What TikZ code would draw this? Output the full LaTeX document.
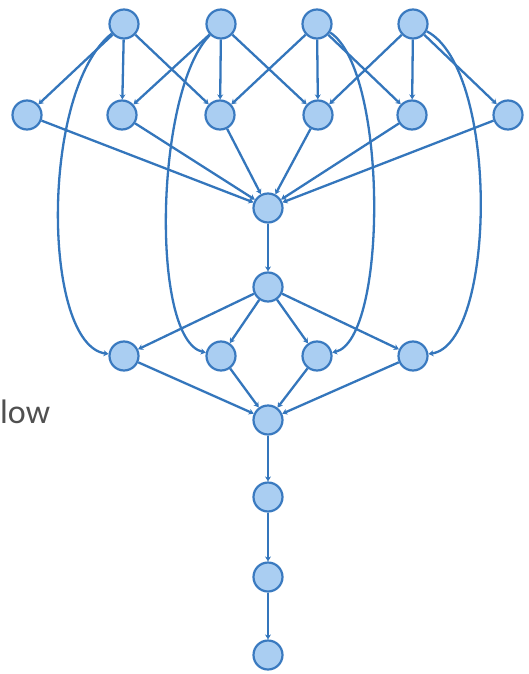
\documentclass[tikz,border=0pt]{standalone}
\usepackage{fontspec}
\setmainfont{Carlito}
\usetikzlibrary{arrows.meta}
\definecolor{edgeblue}{RGB}{52,118,188}
\definecolor{nodefill}{RGB}{170,206,242}
\definecolor{nodedraw}{RGB}{58,122,192}
\definecolor{txtgray}{RGB}{80,80,80}
\begin{document}
\begin{tikzpicture}[x=1pt,y=-1pt,
  vtx/.style={circle,draw=nodedraw,fill=nodefill,line width=2.2pt,minimum size=29pt,inner sep=0pt},
  edge/.style={draw=edgeblue,line width=2.3pt,-{Stealth[length=5pt,width=6pt]}},
  lbl/.style={anchor=base west,inner sep=0pt,text=txtgray,font=\fontsize{34}{40}\selectfont}]
\useasboundingbox (0,0) rectangle (529,674);
% nodes
\node[vtx] (T1) at (124,24) {};
\node[vtx] (T2) at (221,24) {};
\node[vtx] (T3) at (317,24) {};
\node[vtx] (T4) at (413,24) {};
\node[vtx] (S1) at (27,115) {};
\node[vtx] (S2) at (122,115) {};
\node[vtx] (S3) at (220,115) {};
\node[vtx] (S4) at (318,115) {};
\node[vtx] (S5) at (412,115) {};
\node[vtx] (S6) at (508,115) {};
\node[vtx] (H1) at (268,208) {};
\node[vtx] (H2) at (268,287) {};
\node[vtx] (R1) at (124,356) {};
\node[vtx] (R2) at (221,356) {};
\node[vtx] (R3) at (317,356) {};
\node[vtx] (R4) at (413,356) {};
\node[vtx] (H3) at (268,420) {};
\node[vtx] (C1) at (268,497) {};
\node[vtx] (C2) at (268,577) {};
\node[vtx] (C3) at (268,655) {};
\node[lbl] (txt) at (0,423) {low};
% top fan-out
\foreach \a/\b in {T1/S1,T1/S2,T1/S3,T2/S2,T2/S3,T2/S4,T3/S3,T3/S4,T3/S5,T4/S4,T4/S5,T4/S6}
  \draw[edge] (\a) -- (\b);
% into hub
\foreach \a in {S1,S2,S3,S4,S5,S6}
  \draw[edge] (\a) -- (H1);
\draw[edge] (H1) -- (H2);
\foreach \b in {R1,R2,R3,R4}
  \draw[edge] (H2) -- (\b);
\foreach \a in {R1,R2,R3,R4}
  \draw[edge] (\a) -- (H3);
\draw[edge] (H3) -- (C1);
\draw[edge] (C1) -- (C2);
\draw[edge] (C2) -- (C3);
% long curves
\draw[edge] (T1) .. controls (40,90) and (42,345) .. (R1);
\draw[edge] (T2) .. controls (155,90) and (150,340) .. (R2);
\draw[edge] (T3) .. controls (388,70) and (388,340) .. (R3);
\draw[edge] (T4) .. controls (500,70) and (496,345) .. (R4);
\end{tikzpicture}
\end{document}
